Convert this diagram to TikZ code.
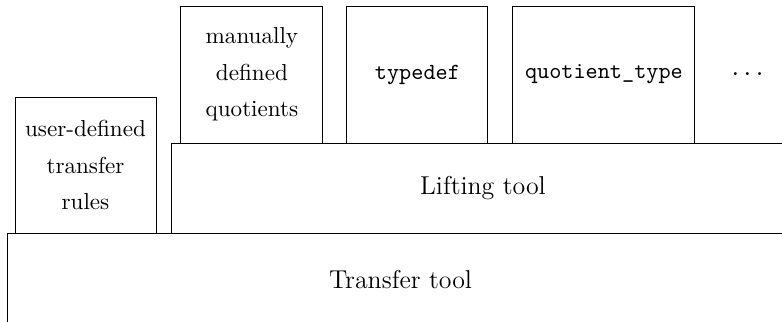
\documentclass[tikz,border=0pt]{standalone}
\usepackage{tikz}
\usetikzlibrary{positioning}
\tikzset{tool node/.style={rectangle, draw, outer sep=0pt, inner sep=0pt, font=\fontsize{11.2pt}{13pt}\selectfont},
         input node/.style={rectangle, draw, outer sep=0pt, inner sep=0pt, align=center, font=\fontsize{10pt}{15.8pt}\selectfont},}

\begin{document}
\begin{tikzpicture}[-, thin]
        \useasboundingbox (0,0) rectangle (338.53pt,-139.39pt);
        \clip (0,0) rectangle (338.53pt,-139.39pt);
        % Tools
        \node[tool node, anchor=north west, minimum width=340.7pt, minimum height=40.7pt] (transfer) at (3.03pt,-100.87pt) {Transfer tool};
        \node[tool node, minimum width=269.3pt, minimum height=38.96pt] [above left = 0pt and 0pt of transfer.north east] (lifting) {Lifting tool};
        % Inputs
        \node[input node, minimum width=61.04pt, minimum height=58.87pt] [above right = 0pt and 3.46pt of transfer.north west] (rules) {user-defined\\transfer\\rules};
        \node[input node, minimum width=61.47pt, minimum height=59.31pt] [above right = 0pt and 3.9pt of lifting.north west] (manual) {manually\\defined\\quotients};
        \node[input node, minimum width=61.04pt, minimum height=59.31pt] [right = 10.39pt of manual] (typedef) {\texttt{typedef}};
        \node[input node, minimum width=78.79pt, minimum height=59.31pt] [right = 10.82pt of typedef] (qtype) {\texttt{quotient\_type}};
        \node[inner sep=0pt, font=\fontsize{10pt}{12pt}\selectfont] [right = 14.7pt of qtype] (more) {\texttt{...}};
    \end{tikzpicture}
\end{document}
